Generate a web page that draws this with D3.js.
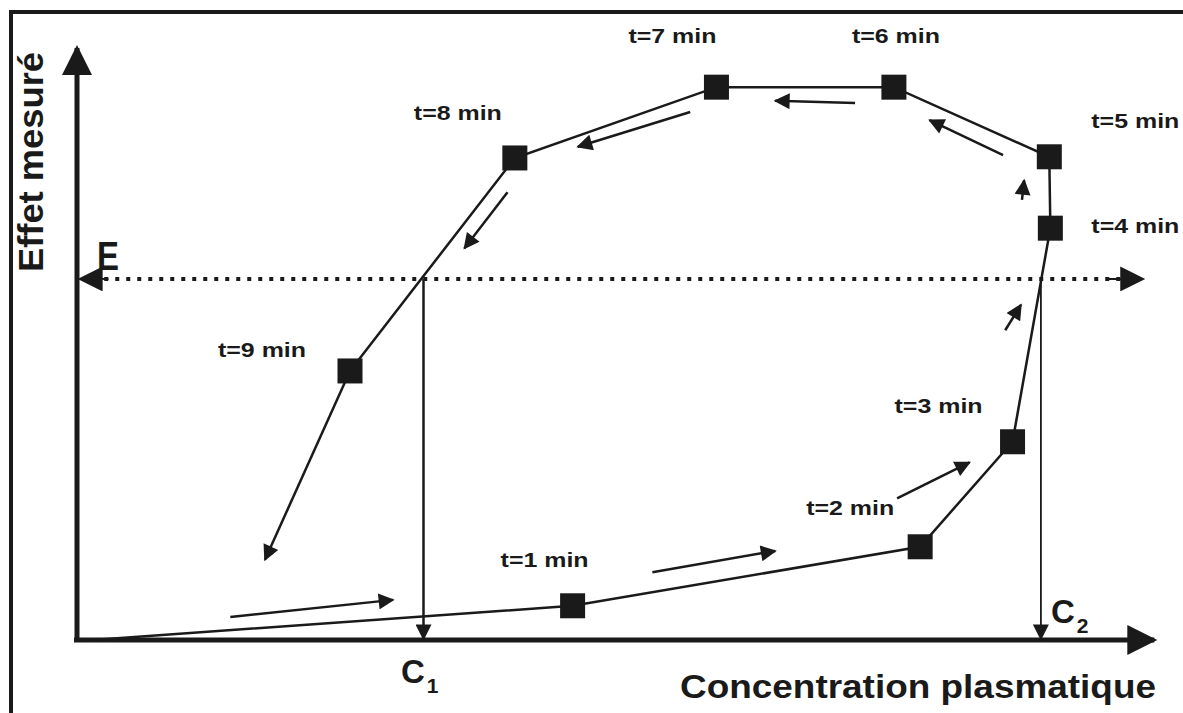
<!DOCTYPE html>
<html><head><meta charset="utf-8">
<script src="https://cdn.jsdelivr.net/npm/d3@7/dist/d3.min.js"></script>
<style>html,body{margin:0;padding:0;background:#fff;}svg{display:block;}</style>
</head><body>
<svg id="c" width="1183" height="713"></svg>
<script>
// Data (arbitrary units: concentration 0-100, effect 0-100)
const times = ["t=1 min","t=2 min","t=3 min","t=4 min","t=5 min","t=6 min","t=7 min","t=8 min","t=9 min"];
const conc =   [47.2, 80.3, 89.1, 92.7, 92.6, 77.8, 60.9, 41.7, 26.0];
const effect = [5.8, 15.8, 33.6, 69.8, 81.9, 93.7, 93.7, 81.7, 45.6];
const startPoint = [1.5, 0];
const endPoint = [17.9, 13.6];
const levelE = 61.2;
const c1 = 33.0, c2 = 91.8;
// label offsets (pixels, centre / baseline) relative to point
const labelPos = [[-28,-39],[-70,-32],[-74,-29],[85,5],[86,-29],[2,-44],[-44,-44],[-57,-38],[-88,-14]];
// small direction arrows [from conc, from effect, to conc, to effect]
const dirArrows = [
  [14.6,3.9,30.1,6.8],
  [54.8,11.5,66.5,15.1],
  [78.1,24.0,85.0,30.1],
  [88.4,52.5,89.9,56.8],
  [90.0,74.6,90.2,77.9],
  [88.2,82.2,81.2,88.1],
  [74.1,91.0,66.5,91.4],
  [58.4,89.5,47.7,83.6],
  [41.0,75.9,36.9,66.4]
];

const FONT = "Liberation Sans, Arial, Helvetica, sans-serif";
const INK = "#1a1a1a";
const svg = d3.select("#c");
const x = d3.scaleLinear().domain([0,100]).range([77,1127]);
const y = d3.scaleLinear().domain([0,100]).range([640,50]);

const defs = svg.append("defs");
function marker(id, w, h){
  defs.append("marker").attr("id",id).attr("viewBox","0 0 10 10").attr("refX",9).attr("refY",5)
    .attr("markerWidth",w).attr("markerHeight",h).attr("markerUnits","userSpaceOnUse").attr("orient","auto-start-reverse")
    .append("path").attr("d","M0,0 L10,5 L0,10 Z").attr("fill",INK);
}
marker("big",32,30);
marker("mid",27,25);
marker("small",20,16);

// frame
svg.append("path").attr("d","M11,1000 L11,12 L1183,12").attr("fill","none").attr("stroke",INK).attr("stroke-width",4);

// axes
svg.append("line").attr("x1",x(0)).attr("y1",y(0)+2).attr("x2",x(0)).attr("y2",y(100)-2)
  .attr("stroke",INK).attr("stroke-width",5).attr("marker-end","url(#big)");
svg.append("line").attr("x1",x(0)-3).attr("y1",y(0)).attr("x2",x(102.6)).attr("y2",y(0))
  .attr("stroke",INK).attr("stroke-width",5).attr("marker-end","url(#big)");

// E label (upright, next to the left arrow)
svg.append("text").attr("x",97).attr("y",270)
  .attr("textLength",22).attr("lengthAdjust","spacingAndGlyphs")
  .attr("font-family",FONT).attr("font-weight","bold").attr("font-size",40)
  .attr("fill",INK).text("E");

// dotted level line with arrows both ends
svg.append("line").attr("x1",x(0.5)).attr("y1",y(levelE)).attr("x2",x(101)).attr("y2",y(levelE))
  .attr("stroke",INK).attr("stroke-width",4).attr("stroke-dasharray","4,7");
svg.append("line").attr("x1",x(3)).attr("y1",y(levelE)).attr("x2",x(0.3)).attr("y2",y(levelE))
  .attr("stroke",INK).attr("stroke-width",2).attr("marker-end","url(#mid)");
svg.append("line").attr("x1",x(98)).attr("y1",y(levelE)).attr("x2",x(101.5)).attr("y2",y(levelE))
  .attr("stroke",INK).attr("stroke-width",2).attr("marker-end","url(#mid)");

// C1 and C2 drop lines
[[c1,2.5],[c2,1.8]].forEach(([c,w])=>{
  svg.append("line").attr("x1",x(c)).attr("y1",y(levelE)).attr("x2",x(c)).attr("y2",y(0)-1)
    .attr("stroke",INK).attr("stroke-width",w).attr("marker-end","url(#small)");
});

// curve
const pts = [startPoint].concat(conc.map((c,i)=>[c,effect[i]]));
const line = d3.line().x(d=>x(d[0])).y(d=>y(d[1]));
svg.append("path").attr("d",line(pts)).attr("fill","none").attr("stroke",INK).attr("stroke-width",2.5);
svg.append("line").attr("x1",x(conc[8])).attr("y1",y(effect[8])).attr("x2",x(endPoint[0])).attr("y2",y(endPoint[1]))
  .attr("stroke",INK).attr("stroke-width",2.5).attr("marker-end","url(#small)");

// direction arrows
svg.selectAll(".dir").data(dirArrows).enter().append("line").attr("class","dir")
  .attr("x1",d=>x(d[0])).attr("y1",d=>y(d[1])).attr("x2",d=>x(d[2])).attr("y2",d=>y(d[3]))
  .attr("stroke",INK).attr("stroke-width",2.5).attr("marker-end","url(#small)");

// squares
const sq = 25;
svg.selectAll(".sq").data(conc).enter().append("rect").attr("class","sq")
  .attr("x",(d)=>x(d)-sq/2).attr("y",(d,i)=>y(effect[i])-sq/2).attr("width",sq).attr("height",sq).attr("fill",INK);

// time labels
svg.selectAll(".tl").data(times).enter().append("text").attr("class","tl")
  .attr("x",(d,i)=>x(conc[i])+labelPos[i][0]-44).attr("y",(d,i)=>y(effect[i])+labelPos[i][1])
  .attr("textLength",88).attr("lengthAdjust","spacingAndGlyphs")
  .attr("font-family",FONT).attr("font-weight","bold").attr("font-size",21).attr("fill",INK).text(d=>d);

// axis titles
svg.append("text").attr("transform",`translate(43,272) rotate(-90)`)
  .attr("textLength",220).attr("lengthAdjust","spacingAndGlyphs")
  .attr("font-family",FONT).attr("font-weight","bold").attr("font-size",35)
  .attr("fill",INK).text("Effet mesuré");
svg.append("text").attr("x",680).attr("y",698)
  .attr("textLength",476).attr("lengthAdjust","spacingAndGlyphs")
  .attr("font-family",FONT).attr("font-weight","bold").attr("font-size",34)
  .attr("fill",INK).text("Concentration plasmatique");

// C1, C2
function cLabel(px,py,sub){
  const t = svg.append("text").attr("x",px).attr("y",py).attr("font-family",FONT)
    .attr("font-weight","bold").attr("font-size",33).attr("fill",INK);
  t.append("tspan").text("C");
  t.append("tspan").attr("font-size",21).attr("dx",2).attr("dy",10).text(sub);
}
cLabel(401,683,"1");
cLabel(1051,623,"2");
</script>
</body></html>
